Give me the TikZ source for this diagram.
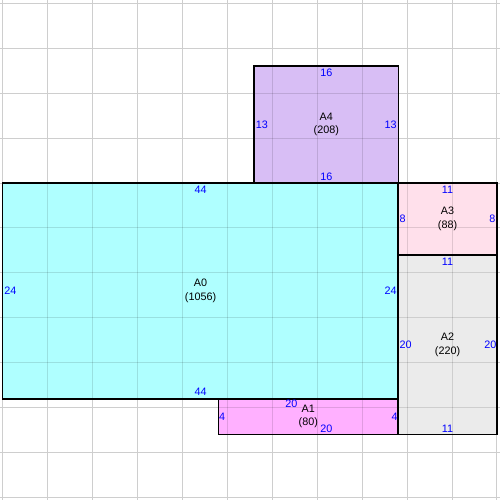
\documentclass[tikz,border=0pt]{standalone}
\usepackage{fontspec}
\setmainfont{Liberation Sans}
\definecolor{gridc}{RGB}{206,206,206}
\definecolor{cAzero}{RGB}{175,255,255}
\definecolor{cAone}{RGB}{255,176,255}
\definecolor{cAtwo}{RGB}{235,235,235}
\definecolor{cAthree}{RGB}{255,224,235}
\definecolor{cAfour}{RGB}{216,190,245}
\begin{document}
\begin{tikzpicture}[x=8.98pt,y=-8.98pt,
  room/.style={draw=black,line width=1pt,rectangle,inner sep=0pt,align=center,
    font=\fontsize{10.8}{13.5}\selectfont},
  dim/.style={text=blue,font=\fontsize{10.8}{12}\selectfont,inner sep=0pt},
  gridline/.style={draw=gridc,line width=1pt},
  overline/.style={draw=black,draw opacity=0.12,line width=1pt}]
\useasboundingbox (-0.334,-20.379) rectangle (55.345,35.30);
\fill[white] (-0.334,-20.379) rectangle (55.345,35.30);
% base grid
\foreach \k in {0,...,11} {
  \draw[gridline] (5*\k,-20.379) -- (5*\k,35.30);
}
\foreach \k in {-4,...,7} {
  \draw[gridline] (-0.334,5*\k) -- (55.345,5*\k);
}
% rooms
\node[room,fill=cAzero,minimum width=395.12pt,minimum height=215.52pt] (A0) at (22,12) {A0\\(1056)};
\node[room,fill=cAfour,minimum width=143.68pt,minimum height=116.74pt] (A4) at (36,-6.5) {A4\\(208)};
\node[room,fill=cAthree,minimum width=98.78pt,minimum height=71.84pt] (A3) at (49.5,4) {A3\\(88)};
\node[room,fill=cAtwo,minimum width=98.78pt,minimum height=179.6pt] (A2) at (49.5,18) {A2\\(220)};
\node[room,fill=cAone,minimum width=179.6pt,minimum height=35.92pt] (A1) at (34,26) {A1\\(80)};
% grid seen through the rooms
\begin{scope}
  \clip (0,0) rectangle (44,24) (28,-13) rectangle (44,0) (44,0) rectangle (55,28) (24,24) rectangle (44,28);
  \foreach \k in {0,...,11} {
    \draw[overline] (5*\k,-20.379) -- (5*\k,35.30);
  }
  \foreach \k in {-4,...,7} {
    \draw[overline] (-0.334,5*\k) -- (55.345,5*\k);
  }
\end{scope}
% redraw borders over the grid
\foreach \r in {A0,A4,A3,A2,A1} {
  \draw[black,line width=1pt] (\r.north west) rectangle (\r.south east);
}
% A0 dimensions
\node[dim] (a0t) at ([yshift=-7pt]A0.north) {44};
\node[dim] (a0b) at ([yshift=7pt]A0.south) {44};
\node[dim] (a0l) at ([xshift=8pt]A0.west) {24};
\node[dim] (a0r) at ([xshift=-8pt]A0.east) {24};
% A4 dimensions
\node[dim] (a4t) at ([yshift=-7pt]A4.north) {16};
\node[dim] (a4b) at ([yshift=7pt]A4.south) {16};
\node[dim] (a4l) at ([xshift=8pt]A4.west) {13};
\node[dim] (a4r) at ([xshift=-8pt]A4.east) {13};
% A3 dimensions
\node[dim] (a3t) at ([yshift=-7pt]A3.north) {11};
\node[dim] (a3l) at ([xshift=5pt]A3.west) {8};
\node[dim] (a3r) at ([xshift=-5pt]A3.east) {8};
% A2 dimensions
\node[dim] (a2t) at ([yshift=-7pt]A2.north) {11};
\node[dim] (a2b) at ([yshift=6.5pt]A2.south) {11};
\node[dim] (a2l) at ([xshift=8pt]A2.west) {20};
\node[dim] (a2r) at ([xshift=-7pt]A2.east) {20};
% A1 dimensions
\node[dim] (a1t) at ([xshift=-17pt,yshift=-6pt]A1.north) {20};
\node[dim] (a1b) at ([xshift=18pt,yshift=6.5pt]A1.south) {20};
\node[dim] (a1l) at ([xshift=4pt]A1.west) {4};
\node[dim] (a1r) at ([xshift=-4pt]A1.east) {4};
\end{tikzpicture}
\end{document}
